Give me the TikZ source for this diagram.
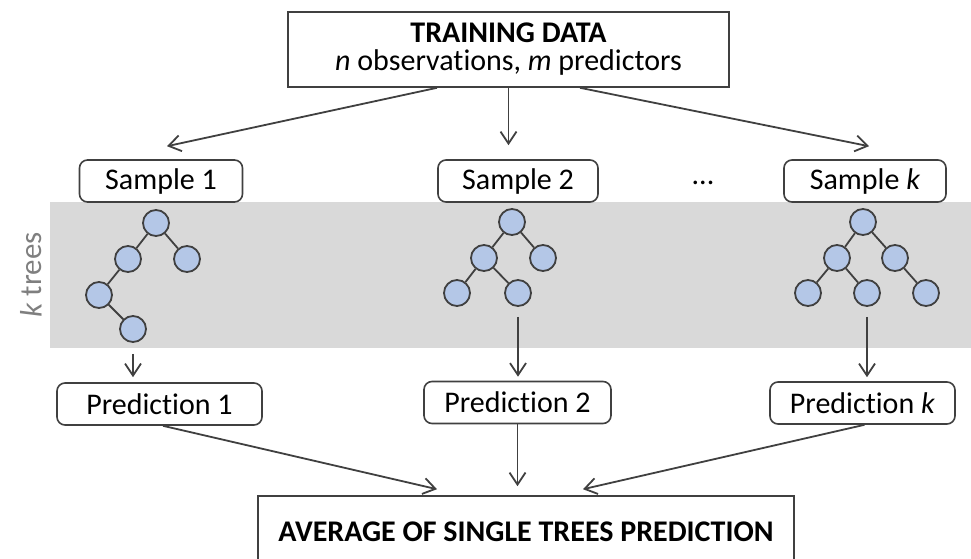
\documentclass[tikz,border=0pt]{standalone}
\usepackage{fontspec}
\setmainfont{Carlito}[Ligatures=NoCommon]
\usepackage{xcolor}
\usepackage{tikz}
\usetikzlibrary{arrows.meta, positioning, calc}
\definecolor{leafblue}{HTML}{B4C7E7}
\definecolor{linegray}{HTML}{404040}
\definecolor{bandgray}{HTML}{D9D9D9}
\definecolor{labelgray}{HTML}{7F7F7F}

\begin{document}
\begin{tikzpicture}[x=0.5pt, y=-0.5pt,
    font=\fontsize{15}{14}\selectfont,
    databox/.style={draw=linegray, line width=0.8pt, fill=white, inner sep=2pt},
    samplebox/.style={draw=linegray, line width=0.8pt, fill=white, rounded corners=4pt,
                      minimum height=21pt, inner sep=2pt},
    leaf/.style={circle, draw=linegray, fill=leafblue, line width=0.9pt,
                 minimum size=13pt, inner sep=0pt},
    treeedge/.style={linegray, line width=0.9pt},
    arr/.style={-{Straight Barb[length=6pt, width=8pt]}, linegray, line width=0.9pt}]
  \clip (0,0) rectangle (971,558);

  %% shaded band holding the k trees
  \fill[bandgray] (50,202) rectangle (971,348);
  \node[rotate=90, text=labelgray, font=\fontsize{15.5}{16}\selectfont] (ktrees) at (31,275)
    {\textit{k} trees};

  %% training data and samples
  \node[databox, minimum width=220.5pt, minimum height=37.5pt, align=center] (train) at (508.5,49.5)
    {\textbf{TRAINING DATA}\\\textit{n} observations, \textit{m} predictors};
  \node[samplebox, minimum width=81.5pt] (s1) at (161,181) {Sample 1};
  \node[samplebox, minimum width=80pt] (s2) at (518,181) {Sample 2};
  \node[samplebox, minimum width=81pt] (sk) at (865,181) {Sample \textit{k}};
  \node (dots) at (703,183) {...};

  %% trees: name/x/y
  \foreach \n/\x/\y in {t1r/156/223, t1a/128/259, t1b/187/259, t1c/99/295, t1d/133/329,
                        t2r/512/222, t2a/484/258, t2b/543/258, t2c/457/293, t2d/518/293,
                        tkr/863/222, tka/837/258, tkb/895/258, tkc/808/293, tkd/867/293,
                        tke/926/293} {
    \node[leaf] (\n) at (\x,\y) {};
  }
  \foreach \u/\v in {t1r/t1a, t1r/t1b, t1a/t1c, t1c/t1d,
                     t2r/t2a, t2r/t2b, t2a/t2c, t2a/t2d,
                     tkr/tka, tkr/tkb, tka/tkc, tka/tkd, tkb/tke} {
    \draw[treeedge] (\u) -- (\v);
  }

  %% predictions and average
  \node[samplebox, minimum width=102.5pt] (p1) at (159.5,404) {Prediction 1};
  \node[samplebox, minimum width=93.5pt] (p2) at (517.5,402.5) {Prediction 2};
  \node[samplebox, minimum width=92.5pt] (pk) at (862.5,403) {Prediction \textit{k}};
  \node[databox, minimum width=268pt, minimum height=36pt] (avg) at (526,532)
    {\textbf{AVERAGE OF SINGLE TREES PREDICTION}};

  %% connectors
  \draw[arr] ([xshift=-35.75pt]train.south) -- ([xshift=3pt, yshift=6.5pt]s1.north);
  \draw[arr] (train.south) -- ([yshift=7pt]train.south |- s2.north);
  \draw[arr] ([xshift=35.75pt]train.south) -- ([xshift=2pt, yshift=6.5pt]sk.north);

  \draw[arr, shorten <=5.5pt] (t1d.south) -- ([yshift=2.5pt]t1d.south |- p1.north);
  \draw[arr, shorten <=5pt] (t2d.south) -- ([yshift=2pt]t2d.south |- p2.north);
  \draw[arr, shorten <=5pt] (tkd.south) -- ([yshift=2pt]tkd.south |- pk.north);

  \draw[arr] ([xshift=1.75pt]p1.south) -- ([xshift=-44.5pt, yshift=3pt]avg.north);
  \draw[arr] (p2.south) -- ([yshift=4.5pt]p2.south |- avg.north);
  \draw[arr] ([xshift=1pt]pk.south) -- ([xshift=28.5pt, yshift=3pt]avg.north);
\end{tikzpicture}
\end{document}
